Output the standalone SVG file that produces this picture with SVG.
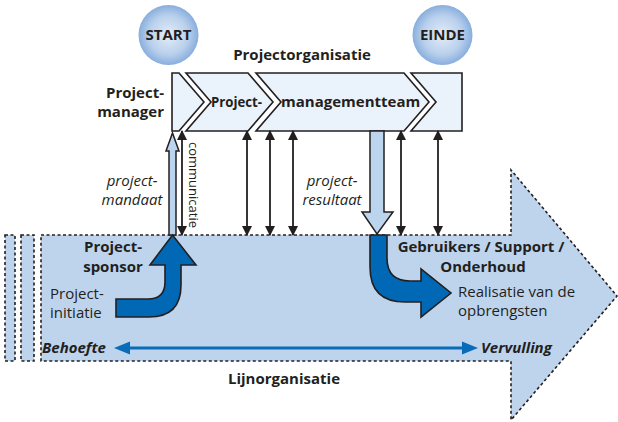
<svg xmlns="http://www.w3.org/2000/svg" width="618" height="422" viewBox="0 0 618 422">
<defs>
<radialGradient id="ball" cx="50%" cy="50%" r="50%">
<stop offset="0" stop-color="#e4edf8"/>
<stop offset="0.65" stop-color="#b9d0ec"/>
<stop offset="1" stop-color="#88aedd"/>
</radialGradient>
<marker id="ah" viewBox="0 0 10 10" refX="9" refY="5" markerWidth="10" markerHeight="10" markerUnits="userSpaceOnUse" orient="auto-start-reverse">
<path d="M0,0 L10,5 L0,10 z" fill="#231f20"/>
</marker>
<style>
text{font-family:"Open Sans","Noto Sans","Liberation Sans",sans-serif;fill:#231f20;font-size:15px}
.b{font-weight:bold}
.i{font-style:italic}
.area{fill:#bed4ed;stroke:#231f20;stroke-width:1.6;stroke-dasharray:3 2.5}
.piece{fill:#eaf2fb;stroke:#231f20;stroke-width:1.6;stroke-linejoin:miter}
.dbl{stroke:#231f20;stroke-width:1.8;fill:none}
.hollow{fill:#bcd5ee;stroke:#231f20;stroke-width:1.5;stroke-linejoin:miter}
.bent{fill:#0068b5;stroke:#231f20;stroke-width:1.6;stroke-linejoin:miter}
</style>
</defs>
<g id="lijnorganisatie">
<rect class="area" x="5" y="235" width="10" height="126"/>
<rect class="area" x="21" y="235" width="13" height="126"/>
<path class="area" d="M41,235 L511,235 L511,170 L617,296 L511,420 L511,361 L41,361 Z"/>
<text class="b" x="284" y="384" text-anchor="middle">Lijnorganisatie</text>
</g>
<g id="start">
<circle cx="168.5" cy="35" r="30" fill="url(#ball)"/>
<text class="b" x="168.5" y="40" text-anchor="middle">START</text>
</g>
<g id="einde">
<circle cx="442.5" cy="35" r="30" fill="url(#ball)"/>
<text class="b" x="442.5" y="40" text-anchor="middle">EINDE</text>
</g>
<g id="projectorganisatie">
<text class="b" x="302" y="60" text-anchor="middle">Projectorganisatie</text>
<path class="piece" d="M172,73 L179,73 L204,102 L179,131 L172,131 Z"/>
<path class="piece" d="M186,73 L248,73 L273,102 L248,131 L186,131 L211,102 Z"/>
<path class="piece" d="M256,73 L404,73 L429,102 L404,131 L256,131 L281,102 Z"/>
<path class="piece" d="M411,73 L462,73 L462,131 L411,131 L436,102 Z"/>
<text class="b" x="211" y="107" textLength="51" lengthAdjust="spacingAndGlyphs">Project-</text>
<text class="b" x="281" y="107">managementteam</text>
</g>
<g id="projectmanager">
<text class="b" x="164" y="98" text-anchor="end">Project-</text>
<text class="b" x="164" y="117" text-anchor="end">manager</text>
</g>
<g id="projectsponsor">
<text class="b" x="113" y="252" text-anchor="middle">Project-</text>
<text class="b" x="113" y="272" text-anchor="middle">sponsor</text>
</g>
<g id="projectinitiatie">
<text x="50" y="299">Project-</text>
<text x="50" y="318">initiatie</text>
</g>
<g id="gebruikers">
<text class="b" x="481" y="252" text-anchor="middle">Gebruikers / Support /</text>
<text class="b" x="483" y="272" text-anchor="middle">Onderhoud</text>
</g>
<g id="realisatie">
<text x="458" y="297">Realisatie van de</text>
<text x="458" y="316">opbrengsten</text>
</g>
<g id="connectors">
<line class="dbl" x1="182" y1="131" x2="182" y2="235" marker-start="url(#ah)" marker-end="url(#ah)"/>
<line class="dbl" x1="247" y1="131" x2="247" y2="235" marker-start="url(#ah)" marker-end="url(#ah)"/>
<line class="dbl" x1="270" y1="131" x2="270" y2="235" marker-start="url(#ah)" marker-end="url(#ah)"/>
<line class="dbl" x1="293" y1="131" x2="293" y2="235" marker-start="url(#ah)" marker-end="url(#ah)"/>
<line class="dbl" x1="401" y1="131" x2="401" y2="235" marker-start="url(#ah)" marker-end="url(#ah)"/>
<line class="dbl" x1="438" y1="131" x2="438" y2="235" marker-start="url(#ah)" marker-end="url(#ah)"/>
<path class="hollow" d="M169,235 L169,151 L166,151 L172.5,133 L179,151 L176,151 L176,235 Z"/>
<path class="hollow" d="M370,131 L384,131 L384,212 L393,212 L377,234 L362,212 L370,212 Z"/>
<path class="bent" d="M116,299 L148,299 Q165,299 165,282 L165,265 L150,265 L172.5,235 L196,265 L181,265 L181,285 Q181,317 149,317 L116,317 Z"/>
<path class="bent" d="M370,235 L387,235 L387,258 Q387,281 410,281 L421,281 L421,269 L451,293 L421,317 L421,302 L405,302 Q370,302 370,267 Z"/>
<g id="behoefte-vervulling">
<rect x="128" y="346.5" width="338" height="3" fill="#0a6cb8"/>
<path d="M114,348 L130,341.5 L130,354.5 Z" fill="#0a6cb8"/>
<path d="M478,348 L462,341.5 L462,354.5 Z" fill="#0a6cb8"/>
</g>
<text class="i" x="132" y="186" text-anchor="middle">project-</text>
<text class="i" x="132" y="205" text-anchor="middle">mandaat</text>
<text class="i" x="332" y="186" text-anchor="middle">project-</text>
<text class="i" x="332" y="205" text-anchor="middle">resultaat</text>
<text x="189" y="142" transform="rotate(90 189 142)" style="font-size:13px">communicatie</text>
<text class="b i" x="42" y="353">Behoefte</text>
<text class="b i" x="481" y="353">Vervulling</text>
</g>
</svg>
